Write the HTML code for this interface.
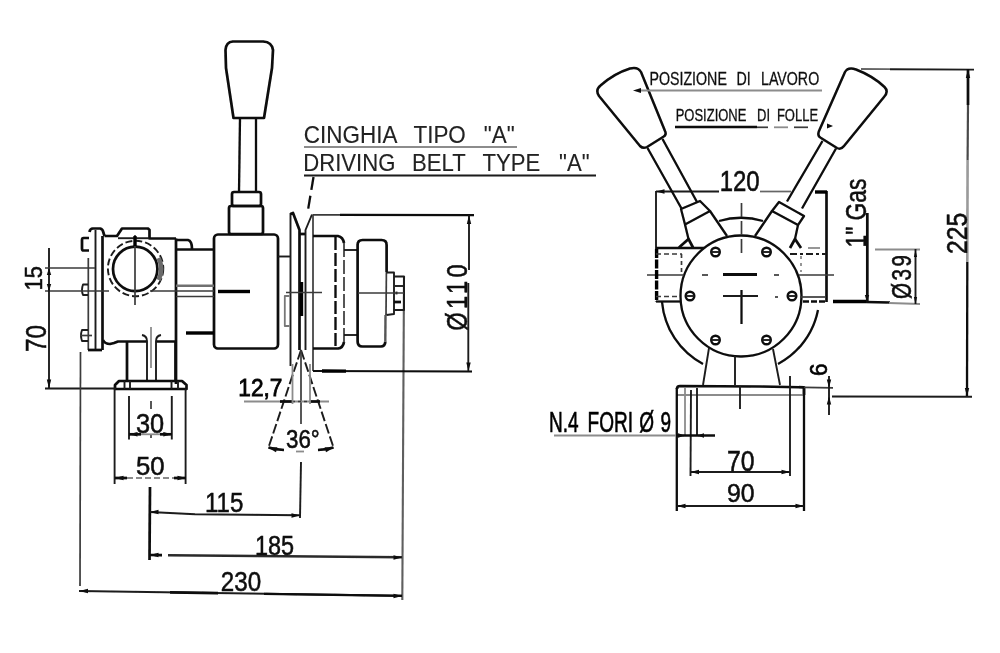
<!DOCTYPE html>
<html lang="it">
<head>
<meta charset="utf-8">
<title>Disegno quotato - Cinghia tipo "A"</title>
<style>
html,body{margin:0;padding:0;background:#fff;}
body{width:1000px;height:653px;overflow:hidden;}
svg{display:block;}
svg line,svg path,svg circle,svg rect{fill:none;stroke-linecap:butt;stroke-linejoin:round;}
.k{stroke:#0a0a0a;stroke-width:2.7;}
.b{stroke:#000;stroke-width:3.4;}
.m{stroke:#1c1c1c;stroke-width:1.9;}
.n{stroke:#3a3a3a;stroke-width:1.7;}
.g{stroke:#8c8c8c;stroke-width:1.8;}
svg .f{fill:#0a0a0a;stroke:none;}
svg text{font-family:"Liberation Sans",sans-serif;fill:#111;stroke:#111;stroke-width:0.3;}
svg text.l{stroke-width:0.1;fill:#222;}
svg text.h{stroke-width:0.65;fill:#000;stroke:#000;}
svg text.d{stroke-width:0.5;fill:#0a0a0a;stroke:#0a0a0a;}
svg text.x{stroke-width:0.8;fill:#000;stroke:#000;}
</style>
</head>
<body>
<svg width="1000" height="653" viewBox="0 0 1000 653">
<defs><filter id="s" x="-2%" y="-2%" width="104%" height="104%"><feGaussianBlur stdDeviation="0.7"/></filter></defs>
<rect x="0" y="0" width="1000" height="653" style="fill:#fff;stroke:none"/>
<g filter="url(#s)">
<path class="k" d="M233,41.5 L263,41.5 Q272,42 273,50 L272,68 L264,118 L233.5,118 L226,68 L225.5,50 Q226,42 233,41.5 Z"/>
<line class="k" x1="240" y1="118" x2="239" y2="192" style="stroke-width:2.3"/>
<line class="k" x1="256" y1="118" x2="256" y2="192" style="stroke-width:2.3"/>
<rect class="k" x="232" y="192" width="29" height="14" rx="2"/>
<rect class="k" x="229" y="206" width="34" height="28" rx="2"/>
<rect class="k" x="214" y="234.5" width="64" height="114" rx="4"/>
<line class="b" x1="218" y1="291.5" x2="250" y2="291.5"/>
<path class="k" d="M89.5,232 Q90,228.5 93,228.5 L100,228.5 Q103,229 103.5,233 L104.5,236"/>
<line class="m" x1="95.5" y1="230" x2="95.5" y2="350"/>
<line class="k" x1="102.5" y1="236" x2="102.5" y2="350"/>
<line class="n" x1="88.3" y1="258" x2="88.3" y2="350"/>
<path class="k" d="M88,350 L102,350"/>
<path class="k" d="M89,238 L83.5,238 Q82,238 82,240 L82,248.5 Q82,250.5 83.5,250.5 L89,250.5"/>
<path class="m" d="M88,284.5 L83,284.5 Q81,290 83,295 L88,295"/>
<path class="m" d="M88,330 L82,330 Q80,335.5 82,341 L88,341"/>
<line class="n" x1="80" y1="335.5" x2="92" y2="335.5"/>
<path class="k" d="M104.5,236 L117,236 L122,228.5 L148,228.5 L149.5,230 L149.5,238.5 L176,238.5"/>
<line class="m" x1="118" y1="238.2" x2="149" y2="238.2"/>
<line class="k" x1="176" y1="238.5" x2="176" y2="384"/>
<path class="k" d="M176,240 L188,240 Q192,241 192,249"/>
<line class="k" x1="176" y1="249.5" x2="214" y2="249.5"/>
<line class="g" x1="176" y1="285.7" x2="214" y2="285.7" style="stroke-width:2.6;stroke:#707070"/>
<line class="n" x1="176" y1="296.5" x2="214" y2="296.5"/>
<line class="b" x1="186" y1="333" x2="214" y2="333"/>
<path class="k" d="M103,340 Q105,344 110,344 L114,343 L118,341.5 L147,341.5 M156,341.5 L176,341.5"/>
<circle class="k" cx="135.2" cy="268.9" r="22.2"/>
<circle class="m" cx="135.6" cy="268.5" r="27.7" stroke-dasharray="7 3"/>
<path class="g" d="M158.6,258 A25.2 25.2 0 0 1 158.6,280" style="stroke-width:4.5;stroke:#6a6a6a"/>
<line class="n" x1="135" y1="235" x2="135" y2="305"/>
<line class="b" x1="135" y1="236" x2="135" y2="246"/>
<line class="n" x1="45" y1="291" x2="109" y2="291"/>
<line class="n" x1="150" y1="291" x2="214" y2="291"/>
<line class="k" x1="127" y1="342" x2="127" y2="381"/>
<line class="k" x1="175.5" y1="342" x2="175.5" y2="381"/>
<path class="m" d="M142,335 Q147,336 147,341 L147,381"/>
<path class="m" d="M161,335 Q156,336 156,341 L156,381"/>
<line class="g" x1="151" y1="327" x2="151" y2="368"/>
<path class="k" d="M119,381 L182,381 L186.5,385 L186.5,389 L115,389 L115,385 Z"/>
<line class="m" x1="124.5" y1="381" x2="124.5" y2="389"/>
<line class="m" x1="130" y1="381" x2="130" y2="389"/>
<line class="m" x1="171.5" y1="381" x2="171.5" y2="389"/>
<line class="m" x1="178" y1="381" x2="178" y2="389"/>
<line class="m" x1="49" y1="248" x2="49" y2="388"/>
<line class="n" x1="45" y1="268" x2="95" y2="268"/>
<line class="m" x1="45" y1="388.5" x2="116" y2="388.5"/>
<text class="t d" font-size="23.57" transform="translate(41.76,290.50) rotate(-90) scale(0.936,1)">15</text>
<text class="t d" font-size="28.87" transform="translate(46.21,352.00) rotate(-90) scale(0.842,1)">70</text>
<line class="m" x1="114.6" y1="389" x2="114.6" y2="484"/>
<line class="m" x1="185.6" y1="389" x2="185.6" y2="484"/>
<line class="m" x1="129" y1="396" x2="129" y2="439.5"/>
<line class="m" x1="171.8" y1="396" x2="171.8" y2="439.5"/>
<line class="n" x1="151" y1="401" x2="151" y2="409"/>
<line class="n" x1="151" y1="434" x2="151" y2="438"/>
<line class="k" x1="129" y1="434.3" x2="141" y2="434.3"/>
<line class="k" x1="160" y1="434.3" x2="171.8" y2="434.3"/>
<line class="g" x1="141" y1="434.3" x2="160" y2="434.3"/>
<line class="k" x1="115" y1="478" x2="127" y2="478"/>
<line class="k" x1="174" y1="478" x2="186" y2="478"/>
<line class="n" x1="127" y1="478" x2="174" y2="478" stroke-dasharray="6 3" style="stroke:#666"/>
<text class="t d" font-size="28.17" transform="translate(135.90,432.72) scale(0.902,1)">30</text>
<text class="t d" font-size="26.62" transform="translate(136.00,475.03) scale(0.968,1)">50</text>
<line class="n" x1="80.5" y1="352" x2="80" y2="586"/>
<line class="k" x1="150" y1="487" x2="149.5" y2="560"/>
<line class="m" x1="301" y1="462" x2="300" y2="518"/>
<line class="g" x1="404" y1="276" x2="402.3" y2="600" style="stroke:#5e5e5e;stroke-width:2.1"/>
<path class="m" d="M150,512 L195,514.2 L300,515.3"/>
<path class="k" d="M150,555 L162,555.1"/>
<path class="k" d="M168,555.2 L402,557.3" style="stroke:#2a2a2a;stroke-width:2.5"/>
<path class="m" d="M79,591 L402,595.8"/>
<path class="k" d="M170,592.4 L218,593.2"/>
<path class="k" d="M264,593.9 L402,595.8" style="stroke-width:2.3"/>
<text class="t d" font-size="28.00" transform="translate(205.00,511.92) scale(0.860,1)">115</text>
<text class="t d" font-size="28.45" transform="translate(255.00,554.72) scale(0.825,1)">185</text>
<text class="t d" font-size="27.75" transform="translate(220.80,591.42) scale(0.872,1)">230</text>
<line class="m" x1="290.5" y1="213" x2="290.5" y2="366"/>
<path class="k" d="M290.5,214 L293,213 L299.5,230 L299.5,350"/>
<line class="k" x1="299.5" y1="234" x2="305.5" y2="234"/>
<path class="m" d="M305.5,350 L305.5,230 L312,214.5"/>
<line class="n" x1="313" y1="214.5" x2="313" y2="371"/>
<line class="b" x1="301.5" y1="282" x2="301.5" y2="316"/>
<path class="g" d="M289.5,296 L284.8,296 L284.8,326 L289.5,326" style="stroke:#777"/>
<line class="m" x1="278" y1="256.5" x2="290" y2="256.5"/>
<line class="n" x1="286" y1="292.5" x2="322" y2="292.5"/>
<path class="m" d="M301,350 L268.5,447.5" stroke-dasharray="10 3"/>
<path class="m" d="M301,350 L333.5,447.5" stroke-dasharray="10 3"/>
<path class="k" d="M268.5,447.5 Q275,449.5 284,450 M318,450 Q327,449.5 333.5,447.5"/>
<line class="g" x1="296" y1="451.5" x2="304" y2="451.5"/>
<line class="n" x1="301" y1="350" x2="301" y2="424"/>
<line class="g" x1="244" y1="401.5" x2="329" y2="401.5"/>
<line class="k" x1="280" y1="401.5" x2="292" y2="401.5"/>
<line class="k" x1="310" y1="401.5" x2="320" y2="401.5"/>
<line class="n" x1="292" y1="401.5" x2="310" y2="401.5" stroke-dasharray="3 3"/>
<line class="g" x1="292.5" y1="364" x2="292.5" y2="404"/>
<line class="g" x1="310" y1="364" x2="310" y2="404"/>
<text class="t x" font-size="24.57" transform="translate(238.30,396.20) scale(0.923,1)">12,7</text>
<text class="t d" font-size="26.20" transform="translate(286.00,448.34) scale(0.852,1)">36°</text>
<path class="k" d="M313,236 L338,236 Q343,237 344,243 M344,342 Q343,348 338,348.5 L313,348.5"/>
<line class="n" x1="344" y1="243" x2="344" y2="342" stroke-dasharray="14 3" style="stroke:#555;stroke-width:2"/>
<line class="k" x1="335.5" y1="237" x2="335.5" y2="347" stroke-dasharray="13 3" style="stroke-width:2.3"/>
<line class="m" x1="344" y1="250" x2="358" y2="250"/>
<line class="m" x1="344" y1="335" x2="358" y2="335"/>
<path class="k" d="M386.6,272 L386.6,245 Q386.6,240 381.6,240 L362.6,240 Q357.6,240 357.6,245 L357.6,341.5 Q357.6,346.5 362.6,346.5 L380.5,346.5 Q385.3,346.5 385.3,341.5"/>
<line class="g" x1="385.3" y1="341.5" x2="385.5" y2="315" style="stroke:#555;stroke-width:2.4"/>
<line class="n" x1="386.4" y1="272" x2="386" y2="315"/>
<path class="m" d="M386.5,272.5 L394,272.5 L394,276.5 L404,276.5 L404,310 L394,310 L394,314 L386.5,315"/>
<line class="m" x1="394" y1="276.5" x2="394" y2="310"/>
<line class="m" x1="395" y1="286" x2="403" y2="286"/>
<line class="k" x1="394" y1="302" x2="401" y2="302"/>
<line class="k" x1="395.5" y1="293" x2="397.5" y2="293"/>
<line class="n" x1="358" y1="293" x2="404" y2="293"/>
<path class="n" d="M313,214.8 L340,214.9"/>
<path class="k" d="M340,214.9 L474,215.2" style="stroke-width:2.2"/>
<path class="k" d="M313,371 L472,371.5" style="stroke-width:2.2"/>
<line class="b" x1="322" y1="371" x2="346" y2="371.1"/>
<line class="m" x1="469" y1="215" x2="469" y2="270"/>
<line class="m" x1="468.3" y1="283" x2="468.3" y2="371"/>
<text class="t d" font-size="29.30" letter-spacing="4.10" transform="translate(467.21,330.70) rotate(-90) scale(0.812,1)">Ø110</text>
<text class="t l" font-size="24.64" xml:space="preserve" transform="translate(0,143.30) scale(0.912,1)"><tspan x="333.19">CINGHIA </tspan><tspan x="453.31">TIPO </tspan><tspan x="530.40">&quot;A&quot;</tspan></text>
<text class="t l" font-size="24.20" xml:space="preserve" transform="translate(0,171.00) scale(0.914,1)"><tspan x="331.82">DRIVING </tspan><tspan x="450.76">BELT </tspan><tspan x="527.85">TYPE </tspan><tspan x="611.73">&quot;A&quot;</tspan></text>
<line class="g" x1="304" y1="147" x2="517" y2="147"/>
<line class="m" x1="304" y1="175.5" x2="596" y2="175.5"/>
<path class="k" d="M313.5,177 L308,210" stroke-dasharray="13 6" style="stroke-width:2.3"/>
<circle class="k" cx="741" cy="296" r="60.5" style="stroke-width:2.3"/>
<path class="k" d="M662,302 A78 78 0 0 0 703,364" style="stroke-width:2.3"/>
<path class="k" d="M818,310 A78 78 0 0 1 778,364" style="stroke-width:2.3"/>
<path class="k" d="M719,221 A78 78 0 0 1 763,221" style="stroke-width:2.3"/>
<circle class="k" cx="792" cy="296" r="4.3" style="stroke-width:2.4"/>
<line class="m" x1="788" y1="296" x2="796" y2="296"/>
<circle class="k" cx="766.5" cy="252" r="4.3" style="stroke-width:2.4"/>
<line class="m" x1="762.5" y1="252" x2="770.5" y2="252"/>
<circle class="k" cx="715.5" cy="252" r="4.3" style="stroke-width:2.4"/>
<line class="m" x1="711.5" y1="252" x2="719.5" y2="252"/>
<circle class="k" cx="690" cy="296" r="4.3" style="stroke-width:2.4"/>
<line class="m" x1="686" y1="296" x2="694" y2="296"/>
<circle class="k" cx="715.5" cy="340" r="4.3" style="stroke-width:2.4"/>
<line class="m" x1="711.5" y1="340" x2="719.5" y2="340"/>
<circle class="k" cx="766.5" cy="340" r="4.3" style="stroke-width:2.4"/>
<line class="m" x1="762.5" y1="340" x2="770.5" y2="340"/>
<line class="n" x1="741.5" y1="203" x2="741.5" y2="253" stroke-dasharray="14 4"/>
<line class="k" x1="741.5" y1="290" x2="741.5" y2="324" style="stroke-width:2.2"/>
<line class="n" x1="647" y1="275" x2="684" y2="275"/>
<line class="n" x1="702" y1="275" x2="708" y2="275"/>
<line class="n" x1="774" y1="275" x2="779" y2="275"/>
<line class="k" x1="723" y1="274.5" x2="757" y2="274.5" style="stroke-width:2.9"/>
<line class="m" x1="723" y1="296" x2="758" y2="296"/>
<line class="m" x1="656" y1="191" x2="656" y2="249"/>
<line class="b" x1="656.6" y1="249" x2="656.6" y2="302" stroke-dasharray="9 1.5"/>
<line class="k" x1="826.5" y1="191" x2="826.5" y2="302"/>
<line class="k" x1="656" y1="248" x2="704" y2="248" style="stroke-width:2.3"/>
<line class="k" x1="656" y1="301.5" x2="681" y2="301.5" style="stroke-width:2.2"/>
<line class="n" x1="656" y1="254" x2="682" y2="254" stroke-dasharray="5 3"/>
<line class="n" x1="681.5" y1="254" x2="681.5" y2="275" stroke-dasharray="4 3"/>
<line class="n" x1="656" y1="296.5" x2="680" y2="296.5" stroke-dasharray="5 3"/>
<line class="g" x1="808" y1="248" x2="820" y2="248"/>
<line class="m" x1="790" y1="254" x2="826" y2="254" stroke-dasharray="7 3 3 3"/>
<line class="k" x1="803" y1="301.5" x2="826" y2="301.5" stroke-dasharray="6 2"/>
<line class="n" x1="800" y1="297" x2="826" y2="297"/>
<line class="g" x1="801" y1="256" x2="801" y2="272" stroke-dasharray="3 4"/>
<line class="m" x1="656" y1="191.5" x2="719" y2="191.5"/>
<line class="n" x1="760" y1="191.5" x2="791" y2="191.5" style="stroke:#666"/>
<line class="b" x1="815" y1="192" x2="827" y2="192"/>
<text class="t d" font-size="28.59" transform="translate(719.70,191.01) scale(0.838,1)">120</text>
<path class="k" d="M599,96 Q595,90 600.5,85.5 Q614,73.5 630,68.5 Q638,66.5 641,72 L665,131 Q667,135 663,137 L647,147 Q643,149 640,146 Z" style="stroke-width:2.5"/>
<path class="k" d="M647.5,148 L681.5,208.5 M662.5,139 L697,202" style="stroke-width:2.3"/>
<path class="k" d="M681,209 L700,201 L710,211 L685,224.5 Z" style="stroke-width:2.3"/>
<path class="k" d="M685,224.5 L688.5,239 M710,211 L727,236" style="stroke-width:2.3"/>
<path class="k" d="M679,247.5 L688.5,239 L693,247.5"/>
<path class="k" d="M884,97 Q889,91.5 884.5,87 Q873,76 856,69.5 Q848,66.5 845,72 L819,131 Q817,136 821,138 L837,148 Q841,150 844,146 Z" style="stroke-width:2.5"/>
<path class="k" d="M822.5,141 L787,201.5 M836,148.5 L802,208.5" style="stroke-width:2.3"/>
<path class="k" d="M779,202 L804,216 L798,225 L772,211 Z" style="stroke-width:2.3"/>
<path class="k" d="M772,211 L755,236 M798,225 L795,239" style="stroke-width:2.3"/>
<path class="k" d="M790,248 L795,239 L801,248"/>
<line class="n" x1="775" y1="297" x2="778" y2="297"/>
<path class="m" d="M709,348 L703,385 M773,349 L780,385 M735,356 L735,385"/>
<path class="k" d="M680,386 L760,386.5 L804,387.3 L804,395 M677,389 Q677,386 680,386"/>
<line class="g" x1="677" y1="395" x2="804" y2="395"/>
<line class="k" x1="676.8" y1="388" x2="676.8" y2="511" style="stroke-width:2.3"/>
<line class="k" x1="804" y1="387" x2="804" y2="511" style="stroke-width:2.3"/>
<line class="g" x1="685" y1="388" x2="685" y2="435"/>
<line class="m" x1="697" y1="388" x2="697" y2="435"/>
<line class="m" x1="691" y1="390" x2="690.5" y2="476"/>
<line class="m" x1="790" y1="376" x2="790" y2="476"/>
<line class="m" x1="740" y1="386" x2="740" y2="409"/>
<text class="t h" font-size="29.71" xml:space="preserve" transform="translate(0,432.00) scale(0.641,1)"><tspan x="856.46">N.4 </tspan><tspan x="916.64">FORI </tspan><tspan x="997.14">Ø </tspan><tspan x="1030.53">9</tspan></text>
<line class="g" x1="554" y1="435.5" x2="676" y2="435.5"/>
<line class="k" x1="676" y1="435.5" x2="715" y2="435.5"/>
<line class="m" x1="690" y1="472" x2="790" y2="472"/>
<line class="m" x1="677" y1="506" x2="804" y2="506"/>
<text class="t d" font-size="29.15" transform="translate(727.00,470.71) scale(0.850,1)">70</text>
<text class="t d" font-size="25.92" transform="translate(727.00,502.34) scale(0.956,1)">90</text>
<line class="n" x1="804" y1="387.3" x2="833" y2="387.8"/>
<line class="m" x1="829" y1="376" x2="829" y2="415"/>
<path class="m" d="M832,396.5 L972,396.7"/>
<text class="t h" font-size="24.65" transform="translate(827.25,376.00) rotate(-90) scale(0.914,1)">6</text>
<path class="g" d="M861,69 L890,69.2" style="stroke:#666"/>
<path class="m" d="M890,69.2 L974,69.6"/>
<line class="k" x1="968" y1="69" x2="968" y2="105"/>
<line class="n" x1="968" y1="105" x2="967.6" y2="160" style="stroke-width:2.2;stroke:#4a4a4a"/>
<line class="g" x1="967.6" y1="160" x2="967.3" y2="262" style="stroke-width:2.6;stroke:#9a9a9a"/>
<line class="k" x1="967.3" y1="262" x2="967" y2="396" style="stroke-width:2.3"/>
<text class="t d" font-size="28.73" transform="translate(967.11,254.00) rotate(-90) scale(0.859,1)">225</text>
<line class="k" x1="867.3" y1="213" x2="867.3" y2="303"/>
<text class="t d" font-size="28.87" transform="translate(866.21,247.50) rotate(-90) scale(0.790,1)">1&quot; Gas</text>
<line class="b" x1="833" y1="301.5" x2="866" y2="301.5"/>
<line class="k" x1="866" y1="302" x2="890" y2="302.5"/>
<line class="g" x1="889" y1="303" x2="920" y2="304"/>
<line class="n" x1="799" y1="275" x2="834" y2="275"/>
<line class="g" x1="875" y1="249.5" x2="920" y2="249.5"/>
<line class="m" x1="915.5" y1="249" x2="915.5" y2="304"/>
<text class="t d" font-size="27.46" letter-spacing="3.30" transform="translate(911.23,299.00) rotate(-90) scale(0.752,1)">Ø39</text>
<text class="t" font-size="18.84" xml:space="preserve" transform="translate(0,85.00) scale(0.755,1)"><tspan x="860.19">POSIZIONE </tspan><tspan x="975.54">DI </tspan><tspan x="1007.94">LAVORO</tspan></text>
<text class="t" font-size="15.94" xml:space="preserve" transform="translate(0,121.00) scale(0.815,1)"><tspan x="829.08">POSIZIONE </tspan><tspan x="928.89">DI </tspan><tspan x="953.29">FOLLE</tspan></text>
<line class="g" x1="640" y1="90.5" x2="822" y2="90.5"/>
<path class="f" d="M633,90.5 L641,88 L641,93 Z"/>
<line class="k" x1="675" y1="127" x2="757" y2="127"/>
<line class="n" x1="757" y1="127.3" x2="768" y2="127.3"/>
<line class="g" x1="774" y1="127.3" x2="788" y2="127.3"/>
<line class="n" x1="794" y1="127.3" x2="808" y2="127.3"/>
<path class="f" d="M833,126 L827,123.5 L827,128.5 Z"/>
<path class="f" d="M129.0,434.3 L137.5,432.1 L137.5,436.5 Z"/>
<path class="f" d="M171.8,434.3 L163.3,436.5 L163.3,432.1 Z"/>
<path class="f" d="M115.0,478.0 L123.5,475.8 L123.5,480.2 Z"/>
<path class="f" d="M186.0,478.0 L177.5,480.2 L177.5,475.8 Z"/>
<path class="f" d="M150.0,512.0 L158.5,509.8 L158.5,514.2 Z"/>
<path class="f" d="M300.0,515.5 L291.5,517.7 L291.5,513.3 Z"/>
<path class="f" d="M150.0,555.0 L158.5,552.8 L158.5,557.2 Z"/>
<path class="f" d="M402.0,557.5 L393.5,559.7 L393.5,555.3 Z"/>
<path class="f" d="M79.5,591.0 L88.0,588.8 L88.0,593.2 Z"/>
<path class="f" d="M402.0,596.0 L393.5,598.2 L393.5,593.8 Z"/>
<path class="f" d="M49.0,268.0 L51.2,275.0 L46.8,275.0 Z"/>
<path class="f" d="M49.0,291.0 L46.8,284.0 L51.2,284.0 Z"/>
<path class="f" d="M49.0,388.0 L46.8,379.5 L51.2,379.5 Z"/>
<path class="f" d="M469.0,215.5 L471.2,224.0 L466.8,224.0 Z"/>
<path class="f" d="M468.5,371.0 L466.3,362.5 L470.7,362.5 Z"/>
<path class="f" d="M656.0,191.5 L664.5,189.3 L664.5,193.7 Z"/>
<path class="f" d="M968.0,69.5 L970.2,78.0 L965.8,78.0 Z"/>
<path class="f" d="M967.0,396.5 L964.8,388.0 L969.2,388.0 Z"/>
<path class="f" d="M915.5,250.0 L917.1,257.0 L913.9,257.0 Z"/>
<path class="f" d="M915.5,304.0 L913.9,297.0 L917.1,297.0 Z"/>
<path class="f" d="M690.5,472.0 L699.0,469.8 L699.0,474.2 Z"/>
<path class="f" d="M790.0,472.0 L781.5,474.2 L781.5,469.8 Z"/>
<path class="f" d="M677.0,506.0 L685.5,503.8 L685.5,508.2 Z"/>
<path class="f" d="M804.0,506.0 L795.5,508.2 L795.5,503.8 Z"/>
<path class="f" d="M829.0,387.5 L826.8,379.5 L831.2,379.5 Z"/>
<path class="f" d="M829.0,396.5 L831.2,404.5 L826.8,404.5 Z"/>
<path class="f" d="M685.0,435.5 L678.0,437.7 L678.0,433.3 Z"/>
<path class="f" d="M697.0,435.5 L704.0,433.3 L704.0,437.7 Z"/>
<path class="f" d="M268.0,447.5 L277.4,447.3 L276.0,452.3 Z"/>
<path class="f" d="M334.0,447.5 L326.0,452.3 L324.6,447.3 Z"/>
<path class="f" d="M867.0,302.0 L864.8,295.0 L869.2,295.0 Z"/>
</g>
</svg>
</body>
</html>
